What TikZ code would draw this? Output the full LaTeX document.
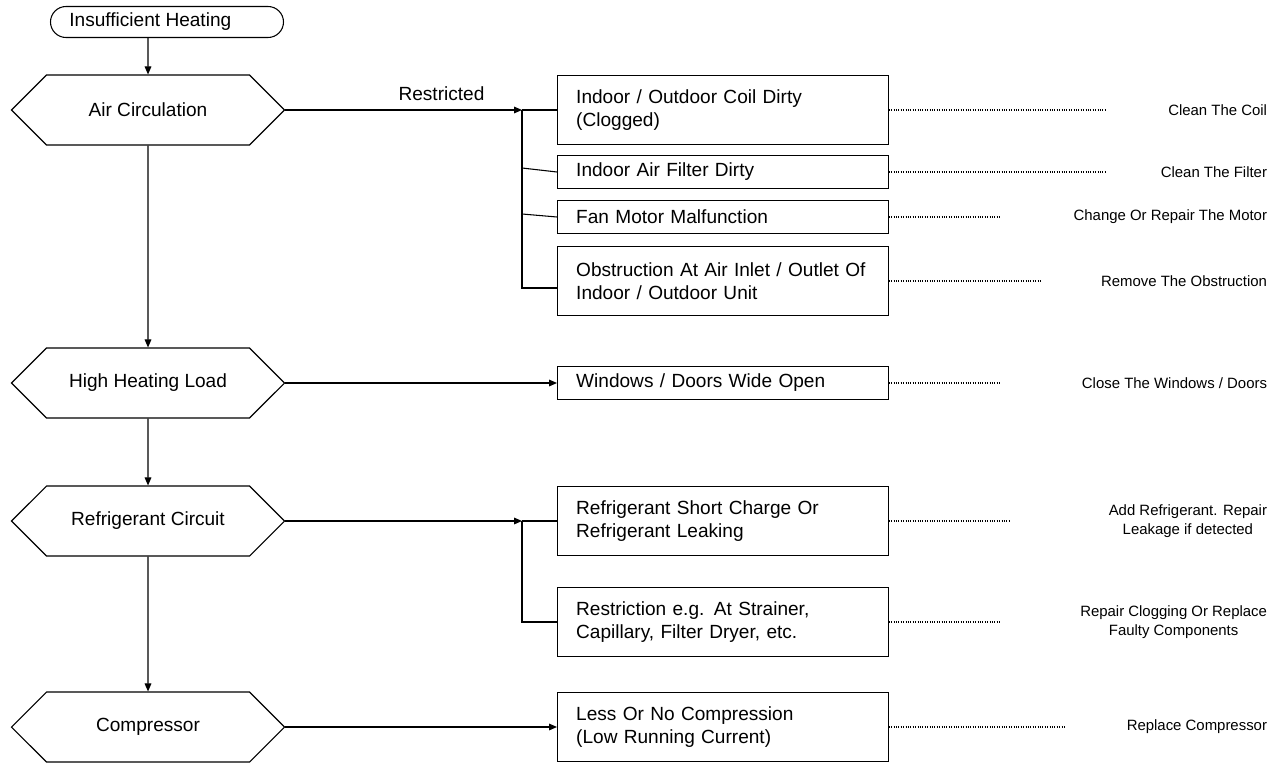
\documentclass[tikz,border=0pt]{standalone}
\usepackage{fontspec}
\setmainfont{Liberation Sans}
\usetikzlibrary{shapes.symbols,shapes.misc,arrows.meta}
\begin{document}
\begin{tikzpicture}[x=0.75pt,y=-0.75pt,
  every node/.style={font=\fontsize{11.2}{14}\selectfont},
  big/.style={font=\fontsize{14.3}{17.5}\selectfont},
  hexa/.style={big,draw,signal,signal to=east and west,signal pointer angle=90,minimum width=204.75pt,minimum height=52.5pt,inner sep=0pt},
  term/.style={big,draw,rounded rectangle,minimum width=174.75pt,minimum height=23.25pt,inner sep=0pt},
  cause/.style={big,draw,minimum width=235.5pt,anchor=west,align=left,text width=220pt,inner xsep=14pt,inner ysep=0pt},
  act/.style={anchor=east,align=center},
  arr/.style={-{Triangle[length=6pt,width=5pt]}},
  dot/.style={densely dotted,line width=0.8pt},
  line width=0.8pt]
\useasboundingbox (0,0) rectangle (1279,767);
\node[term] (start) at (167,22) {\hspace*{-25pt}Insufficient Heating};
\node[hexa] (h1) at (148,110) {Air Circulation};
\node[hexa] (h2) at (148,383) {High Heating Load};
\node[hexa] (h3) at (148,521) {Refrigerant Circuit};
\node[hexa] (h4) at (148,727) {Compressor};
\draw[arr] (h1.north |- start.south) -- (h1);
\draw[arr] (h1) -- (h2);
\draw[arr] (h2) -- (h3);
\draw[arr] (h3) -- (h4);

\node[cause,minimum height=51.75pt] (b1) at (557,110) {Indoor / Outdoor Coil Dirty\\(Clogged)};
\node[cause,minimum height=24.75pt] (b2) at (557,172) {Indoor Air Filter Dirty};
\node[cause,minimum height=24.75pt] (b3) at (557,217) {Fan Motor Malfunction};
\node[cause,minimum height=51.75pt] (b4) at (557,281) {Obstruction At Air Inlet / Outlet Of\\Indoor / Outdoor Unit};
\node[cause,minimum height=24.75pt] (b5) at (557,383) {Windows / Doors Wide Open};
\node[cause,minimum height=51.75pt] (b6) at (557,521) {Refrigerant Short Charge Or\\Refrigerant Leaking};
\node[cause,minimum height=51.75pt] (b7) at (557,622) {Restriction e.g. At Strainer,\\Capillary, Filter Dryer, etc.};
\node[cause,minimum height=51.75pt] (b8) at (557,727) {Less Or No Compression\\(Low Running Current)};

\coordinate (j1) at (522,110);
\coordinate (j1e) at (522,288);
\coordinate (j2) at (522,521);
\coordinate (j2e) at (522,622);
\draw[arr] (h1.east) -- node[big,above,yshift=3pt,pos=0.66]{Restricted} (j1);
\draw (j1) -- (b1.west) (j1) -- (j1e) -- (b4.west |- j1e);
\draw (522,168) -- (b2.west) (522,214) -- (b3.west);
\draw[arr] (h2.east) -- (b5.west);
\draw[arr] (h3.east) -- (j2);
\draw (j2) -- (b6.west) (j2) -- (j2e) -- (b7.west);
\draw[arr] (h4.east) -- (b8.west);

\node[act] (a1) at (1272,110) {Clean The Coil};
\node[act] (a2) at (1272,172) {Clean The Filter};
\node[act] (a3) at (1272,217) {Change Or Repair The Motor};
\node[act] (a4) at (1272,281) {Remove The Obstruction};
\node[act] (a5) at (1272,383) {Close The Windows / Doors};
\node[act] (a6) at (1272,521) {Add Refrigerant. Repair\\Leakage if detected};
\node[act] (a7) at (1272,622) {Repair Clogging Or Replace\\Faulty Components};
\node[act] (a8) at (1272,727) {Replace Compressor};
\draw[dot] (b1.east) -- (1105,110);
\draw[dot] (b2.east) -- (1105,172);
\draw[dot] (b3.east) -- (1000,217);
\draw[dot] (b4.east) -- (1040,281);
\draw[dot] (b5.east) -- (1000,383);
\draw[dot] (b6.east) -- (1010,521);
\draw[dot] (b7.east) -- (1000,622);
\draw[dot] (b8.east) -- (1065,727);
\end{tikzpicture}
\end{document}
